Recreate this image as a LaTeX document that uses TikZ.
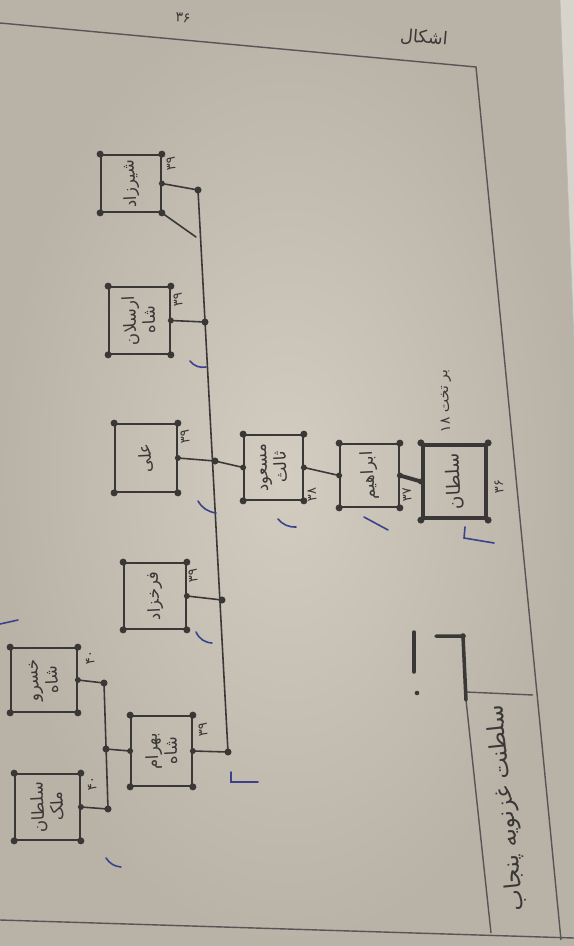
\documentclass[tikz,border=0pt]{standalone}
\usepackage{fontspec}
\TeXXeTstate=1
\newfontfamily\arabicfont[Script=Arabic]{DejaVu Sans}
\newcommand\urd[1]{\beginR #1\endR}
\definecolor{ink}{RGB}{58,56,54}
\definecolor{bluepen}{RGB}{58,66,140}
\definecolor{paperin}{RGB}{210,204,193}
\definecolor{paperout}{RGB}{184,178,167}
\definecolor{paperedge}{RGB}{216,212,203}
\tikzset{
  pen/.style={draw=ink, line width=0.9pt, line cap=round},
  frameline/.style={draw=ink!85, line width=0.8pt},
  famb/.style={draw=ink, line width=1pt, rectangle, inner sep=0pt},
  rootb/.style={famb, line width=2.4pt},
  lbl/.style={font=\arabicfont\fontsize{9.5}{11}\selectfont, text=ink, rotate=93, align=center, inner sep=0pt},
  num/.style={font=\arabicfont\fontsize{7.5}{8}\selectfont, text=ink, rotate=93, inner sep=0pt},
  bluemark/.style={draw=bluepen, line width=0.9pt, line cap=round}
}
\begin{document}
\begin{tikzpicture}[x=0.02cm,y=-0.02cm]
\useasboundingbox (0,0) rectangle (574,946);
% paper
\shade[inner color=paperin, outer color=paperout] (0,0) rectangle (574,946);
\fill[paperedge] (560,0) -- (574,0) -- (574,340) -- cycle;
\draw[ink!35, line width=0.4pt] (560,0) -- (574,340);

% frame
\draw[frameline] (0,23) -- (476,67) -- (561,940);
\draw[frameline] (0,920) -- (574,938);
\draw[frameline] (466,700) -- (491,933);
\draw[frameline] (466,692) -- (533,695);
\draw[pen, line width=2pt] (436,636) -- (463,636) -- (466,700);
\fill[ink] (463,636) circle (1.6pt);
\draw[pen, line width=2pt] (414,632) -- (414,672);
\fill[ink] (417,693) circle (1.3pt);

% headings
\node[font=\arabicfont\fontsize{10}{12}\selectfont, text=ink, rotate=-5] (hdr) at (424,38) {\urd{اشکال}};
\node[font=\arabicfont\fontsize{8}{10}\selectfont, text=ink, rotate=-5] (pg) at (183,18) {\beginL ۳۶\endL};
\node[font=\arabicfont\fontsize{13}{15}\selectfont, text=ink, rotate=96] (title) at (507,808) {\urd{سلطنت غزنویه پنجاب}};

% boxes
\node[rootb, minimum width=1.26cm, minimum height=1.46cm] (root) at (454.5,481.5) {};
\node[famb, minimum width=1.18cm, minimum height=1.26cm] (b2) at (369.5,475.5) {};
\node[famb, minimum width=1.18cm, minimum height=1.30cm] (b3) at (273.5,467.5) {};
\node[famb, minimum width=1.24cm, minimum height=1.36cm] (b4) at (146,458) {};
\node[famb, minimum width=1.20cm, minimum height=1.14cm] (b5) at (131,183.5) {};
\node[famb, minimum width=1.22cm, minimum height=1.34cm] (b6) at (139.5,320.5) {};
\node[famb, minimum width=1.24cm, minimum height=1.32cm] (b7) at (155,596) {};
\node[famb, minimum width=1.22cm, minimum height=1.40cm] (b8) at (161.5,751) {};
\node[famb, minimum width=1.32cm, minimum height=1.28cm] (b9) at (44,680) {};
\node[famb, minimum width=1.30cm, minimum height=1.32cm] (b10) at (47.5,807) {};

\foreach \b in {root,b2,b3,b4,b5,b6,b7,b8,b9,b10}
  \foreach \a in {north east,north west,south east,south west}
    \fill[ink] (\b.\a) circle (2pt);

% labels
\node[lbl, font=\arabicfont\fontsize{10.5}{12}\selectfont] (rootl) at (root) {\urd{سلطان}};
\node[lbl] (b2l) at (b2) {\urd{ابراهیم}};
\node[lbl] (b3l) at (b3) {\urd{مسعود}\\\urd{ثالث}};
\node[lbl] (b4l) at (b4) {\urd{علی}};
\node[lbl] (b5l) at (b5) {\urd{شیرزاد}};
\node[lbl] (b6l) at (b6) {\urd{ارسلان}\\\urd{شاه}};
\node[lbl] (b7l) at (b7) {\urd{فرخزاد}};
\node[lbl] (b8l) at (b8) {\urd{بهرام}\\\urd{شاه}};
\node[lbl] (b9l) at (b9) {\urd{خسرو}\\\urd{شاه}};
\node[lbl] (b10l) at (b10) {\urd{سلطان}\\\urd{ملک}};
\node[lbl, font=\arabicfont\fontsize{8}{9}\selectfont] (note) at (446,401) {\urd{بر تخت \beginL ۱۸\endL}};

% numbers
\node[num] (n1) at (499,487) {\beginL ۳۶\endL};
\node[num] (n2) at (407,495) {\beginL ۳۷\endL};
\node[num] (n3) at (312,495) {\beginL ۳۸\endL};
\node[num] (n4) at (185,437) {\beginL ۳۹\endL};
\node[num] (n5) at (171,164) {\beginL ۳۹\endL};
\node[num] (n6) at (178,300) {\beginL ۳۹\endL};
\node[num] (n7) at (193,576) {\beginL ۳۹\endL};
\node[num] (n8) at (203,730) {\beginL ۳۹\endL};
\node[num] (n9) at (90,658) {\beginL ۴۰\endL};
\node[num] (n10) at (92,784) {\beginL ۴۰\endL};

% connectors
\coordinate (s5) at (198,190);
\coordinate (s6) at (205,322);
\coordinate (s4) at (215,461);
\coordinate (s7) at (222,600);
\coordinate (s8) at (228,752);
\coordinate (sd) at (196,237);
\coordinate (t8) at (106,749);
\coordinate (t9) at (104,683);
\coordinate (t10) at (108,809);

\draw[pen, line width=2.2pt] (root.west) -- (b2.east);
\draw[pen] (b2.west) -- (b3.east);
\draw[pen] (b3.west) -- (s4) -- (b4.east);
\draw[pen] (s5) -- (s8);
\draw[pen] (b5.east) -- (s5);
\draw[pen] (b5.south east) -- (sd);
\draw[pen] (b6.east) -- (s6);
\draw[pen] (b7.east) -- (s7);
\draw[pen] (b8.east) -- (s8);
\draw[pen] (b8.west) -- (t8);
\draw[pen] (t9) -- (t10);
\draw[pen] (b9.east) -- (t9);
\draw[pen] (b10.east) -- (t10);
\foreach \p in {s5,s6,s4,s7,s8,t8,t9,t10}
  \fill[ink] (\p) circle (2pt);
\foreach \p in {root.west,b2.east,b2.west,b3.east,b3.west,b4.east,b5.east,b6.east,b7.east,b8.east,b8.west,b9.east,b10.east}
  \fill[ink] (\p) circle (1.7pt);

% blue tick marks
\draw[bluemark] (465,527) -- (464,538) -- (494,543);
\draw[bluemark] (364,517) -- (388,530);
\draw[bluemark] (278,519) to[bend right=25] (296,527);
\draw[bluemark] (198,501) to[bend right=25] (216,513);
\draw[bluemark] (190,361) to[bend right=30] (206,367);
\draw[bluemark] (196,632) to[bend right=30] (212,643);
\draw[bluemark] (231,772) -- (231,782) -- (258,782);
\draw[bluemark] (106,858) to[bend right=25] (121,867);
\draw[bluemark] (0,624) -- (18,620);
\end{tikzpicture}
\end{document}
